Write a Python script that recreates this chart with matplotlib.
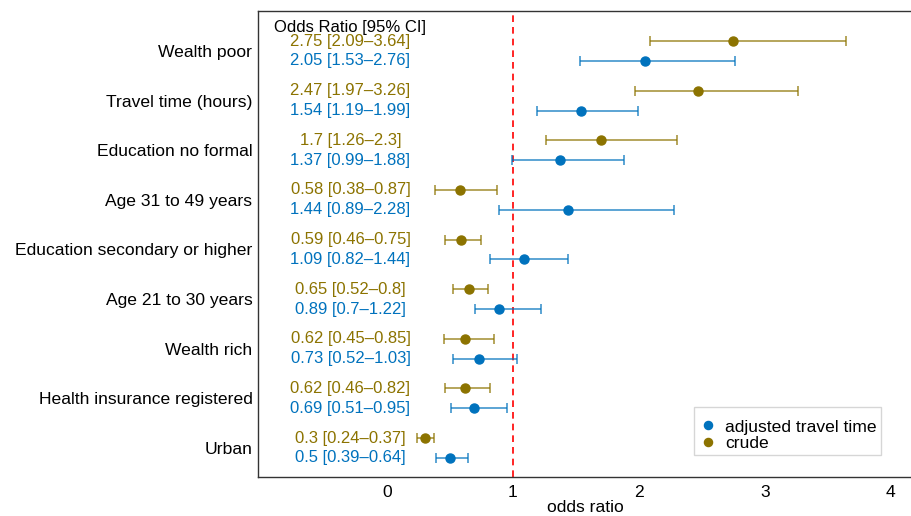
import matplotlib
matplotlib.use("Agg")
import matplotlib.pyplot as plt
import numpy as np

plt.rcParams['font.family'] = ['Liberation Sans', 'DejaVu Sans']

categories = ["Wealth poor", "Travel time (hours)", "Education no formal",
              "Age 31 to 49 years", "Education secondary or higher",
              "Age 21 to 30 years", "Wealth rich", "Health insurance registered", "Urban"]
crude_or = [2.75, 2.47, 1.7, 0.58, 0.59, 0.65, 0.62, 0.62, 0.3]
crude_lo = [2.09, 1.97, 1.26, 0.38, 0.46, 0.52, 0.45, 0.46, 0.24]
crude_hi = [3.64, 3.26, 2.3, 0.87, 0.75, 0.8, 0.85, 0.82, 0.37]
crude_txt = ["2.75 [2.09\u20133.64]", "2.47 [1.97\u20133.26]", "1.7 [1.26\u20132.3]",
             "0.58 [0.38\u20130.87]", "0.59 [0.46\u20130.75]", "0.65 [0.52\u20130.8]",
             "0.62 [0.45\u20130.85]", "0.62 [0.46\u20130.82]", "0.3 [0.24\u20130.37]"]
adj_or = [2.05, 1.54, 1.37, 1.44, 1.09, 0.89, 0.73, 0.69, 0.5]
adj_lo = [1.53, 1.19, 0.99, 0.89, 0.82, 0.7, 0.52, 0.51, 0.39]
adj_hi = [2.76, 1.99, 1.88, 2.28, 1.44, 1.22, 1.03, 0.95, 0.64]
adj_txt = ["2.05 [1.53\u20132.76]", "1.54 [1.19\u20131.99]", "1.37 [0.99\u20131.88]",
           "1.44 [0.89\u20132.28]", "1.09 [0.82\u20131.44]", "0.89 [0.7\u20131.22]",
           "0.73 [0.52\u20131.03]", "0.69 [0.51\u20130.95]", "0.5 [0.39\u20130.64]"]
xticks = [0, 1, 2, 3, 4]

BLUE = "#0072BD"
OLIVE = "#8C7300"
FS = 12.6

fig = plt.figure(figsize=(9.12, 5.16), dpi=100)
ax = fig.add_axes([258/912, 39/516, 1 - 258/912, 466/516])

y = np.arange(len(categories))
off = 0.2

def draw(vals, lo, hi, ypos, color, label):
    vals = np.array(vals); lo = np.array(lo); hi = np.array(hi)
    err = np.vstack([vals - lo, hi - vals])
    ax.errorbar(vals, ypos, xerr=err, fmt='none', ecolor=color, elinewidth=1.2,
                capsize=3.5, capthick=1.2, alpha=0.75, zorder=2)
    ax.plot(vals, ypos, 'o', color=color, markersize=6.5, zorder=3, label=label)

draw(adj_or, adj_lo, adj_hi, y + off, BLUE, "adjusted travel time")
draw(crude_or, crude_lo, crude_hi, y - off, OLIVE, "crude")

ax.axvline(1, color='red', linestyle=(0, (4, 3)), linewidth=1.2, zorder=1)

tx = -0.29
for i in range(len(categories)):
    ax.text(tx, y[i] - off, crude_txt[i], color=OLIVE, ha='center', va='center', fontsize=12)
    ax.text(tx, y[i] + off, adj_txt[i], color=BLUE, ha='center', va='center', fontsize=12)
ax.text(tx, -0.48, "Odds Ratio [95% CI]", color='black', ha='center', va='center', fontsize=12)

ax.set_xlim((258 - 387) / 126, (912 - 387) / 126)
ax.set_ylim(8.585, -0.806)
ax.set_yticks(y)
ax.set_yticklabels(categories, fontsize=FS)
ax.set_xticks(xticks)
ax.set_xticklabels([str(t) for t in xticks], fontsize=FS)
ax.tick_params(axis='x', length=0, pad=6)
ax.tick_params(axis='y', length=0, pad=4)
ax.set_xlabel("odds ratio", fontsize=FS, labelpad=0)
for s in ['left', 'top', 'bottom']:
    ax.spines[s].set_color('#333333')
    ax.spines[s].set_linewidth(1.0)
ax.spines['right'].set_visible(False)

handles, labels = ax.get_legend_handles_labels()
leg = ax.legend(handles, labels, loc='lower right', bbox_to_anchor=(0.9526, 0.047),
                fontsize=FS, frameon=True, fancybox=False, edgecolor='#cccccc',
                handlelength=1.0, handletextpad=0.5, borderpad=0.25, labelspacing=0.05,
                borderaxespad=0, markerscale=0.9, title=" ", title_fontsize=6)
leg.get_frame().set_linewidth(1.0)

fig.savefig("out.png", dpi=100)
